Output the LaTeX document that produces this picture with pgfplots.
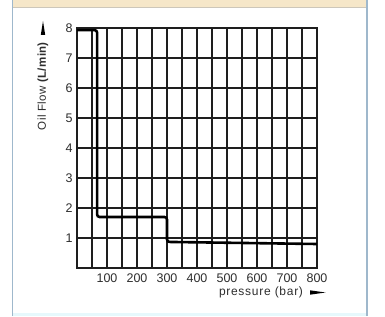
\documentclass[border=0pt]{standalone}
\usepackage{fontspec}
\setmainfont{Liberation Sans}
\usepackage{pgfplots}
\pgfplotsset{compat=1.18}
\definecolor{beige}{HTML}{F6E7C9}
\definecolor{framebl}{HTML}{9FB8CC}
\definecolor{botcy}{HTML}{E6F8FC}
\definecolor{gridc}{HTML}{1E1E1E}
\definecolor{txt}{HTML}{2E2E2E}
\begin{document}
\begin{tikzpicture}[x=1pt,y=1pt]
\useasboundingbox (0,0) rectangle (385,316);
\fill[white] (0,0) rectangle (385,316);
\fill[beige] (12,309) rectangle (368,316);
\draw[beige!70!black!60, line width=0.6pt] (12,309) -- (368,309);
\fill[botcy] (12,0) rectangle (368,3);
\draw[framebl, line width=1.2pt] (12.5,0) -- (12.5,316);
\draw[framebl, line width=1.2pt] (367,0) -- (367,316);
\begin{axis}[
  at={(77pt,48pt)}, anchor=south west,
  scale only axis, width=240pt, height=240pt,
  xmin=0, xmax=800, ymin=0, ymax=8,
  xtick={100,200,...,800},
  minor xtick={50,150,...,750},
  ytick={1,...,8},
  grid=both,
  major grid style={gridc, line width=1.2pt},
  minor grid style={gridc, line width=1.2pt},
  axis line style={gridc, line width=1.4pt},
  major tick length=0pt, minor tick length=0pt,
  /pgf/number format/assume math mode=true,
  tick label style={font=\fontsize{12.5}{13}\selectfont, text=txt},
  xticklabel style={yshift=-2pt},
  yticklabel style={xshift=-1pt},
]
\addplot[black, line width=2.6pt, rounded corners=2.5pt] coordinates {
  (0,7.93) (67,7.93) (67,1.70) (300,1.70) (300,0.87) (800,0.80)
};
\end{axis}
\node[rotate=90, text=txt, font=\fontsize{11.5}{13}\selectfont\addfontfeature{LetterSpace=3}] at (43,230) {Oil Flow \textbf{(L/min)}};
\fill[black] (40.8,281) -- (43,295) -- (45.2,281) -- cycle;
\node[text=txt, font=\fontsize{12}{13}\selectfont\addfontfeature{LetterSpace=6}] at (261,24) {pressure (bar)};
\fill[black] (310,21.3) -- (325.5,23.5) -- (310,25.7) -- cycle;
\end{tikzpicture}
\end{document}
